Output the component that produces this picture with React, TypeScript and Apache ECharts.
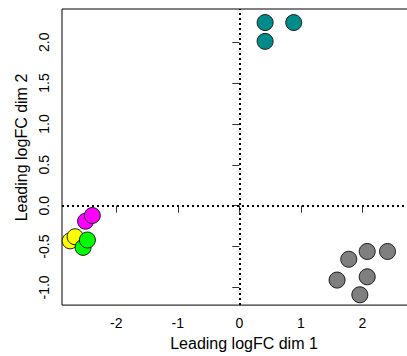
import React, { useEffect, useRef } from "react";
import * as echarts from "echarts";

const xTicks = [-2, -1, 0, 1, 2];
const yTicks = [-1, -0.5, 0, 0.5, 1, 1.5, 2];

const magentaPts = [
  [-2.5, -0.19],
  [-2.39, -0.12],
];
const yellowPts = [
  [-2.75, -0.43],
  [-2.67, -0.38],
];
const greenPts = [
  [-2.54, -0.51],
  [-2.47, -0.42],
];
const tealPts = [
  [0.42, 2.01],
  [0.42, 2.24],
  [0.885, 2.24],
];
const grayPts = [
  [1.59, -0.91],
  [1.96, -1.09],
  [2.08, -0.87],
  [1.78, -0.655],
  [2.08, -0.56],
  [2.41, -0.56],
];

const groups = [
  { name: "magenta", color: "#FF00FF", data: magentaPts },
  { name: "yellow", color: "#FFFF00", data: yellowPts },
  { name: "green", color: "#00FF00", data: greenPts },
  { name: "teal", color: "#008B8B", data: tealPts },
  { name: "gray", color: "#7F7F7F", data: grayPts },
];

const FONT = "Liberation Sans, Arial, sans-serif";

export default function App() {
  const ref = useRef<HTMLDivElement>(null);
  useEffect(() => {
    if (!ref.current) return;
    const chart = echarts.init(ref.current, undefined, { renderer: "svg" });
    const series: any[] = groups.map((g, i) => ({
      type: "scatter",
      name: g.name,
      data: g.data,
      symbol: "circle",
      symbolSize: 16,
      itemStyle: { color: g.color, borderColor: "#1a1a1a", borderWidth: 1, opacity: 1 },
      emphasis: { disabled: true },
      z: 3,
      ...(i === 0
        ? {
            markLine: {
              silent: true,
              symbol: "none",
              label: { show: false },
              lineStyle: { color: "#000", width: 2, type: [2, 3] },
              data: [{ xAxis: 0 }, { yAxis: 0 }],
              z: 1,
            },
          }
        : {}),
    }));
    chart.setOption({
      animation: false,
      backgroundColor: "#fff",
      grid: {
        left: 62,
        top: 9,
        bottom: 50,
        right: 14,
        show: true,
        borderColor: "#000",
        borderWidth: 1,
        backgroundColor: "transparent",
      },
      xAxis: {
        type: "value",
        min: -2.883,
        max: 3.036,
        name: "Leading logFC dim 1",
        nameLocation: "middle",
        nameGap: 24,
        nameTextStyle: { fontFamily: FONT, fontSize: 16, color: "#000" },
        splitLine: { show: false },
        axisLine: { show: false },
        axisTick: { show: true, length: 7, lineStyle: { color: "#333" }, customValues: xTicks },
        axisLabel: {
          customValues: xTicks,
          margin: 11,
          fontFamily: FONT,
          fontSize: 14,
          color: "#000",
          formatter: (v: number) => String(v),
        },
      },
      yAxis: {
        type: "value",
        min: -1.216,
        max: 2.406,
        name: "Leading logFC dim 2",
        nameLocation: "middle",
        nameGap: 29,
        nameTextStyle: { fontFamily: FONT, fontSize: 16, color: "#000", padding: [0, 0, 0, 19] },
        splitLine: { show: false },
        axisLine: { show: false },
        axisTick: { show: true, length: 7, lineStyle: { color: "#333" }, customValues: yTicks },
        axisLabel: {
          customValues: yTicks,
          rotate: 90,
          margin: 11,
          fontFamily: FONT,
          fontSize: 14,
          color: "#000",
          formatter: (v: number) => v.toFixed(1),
        },
      },
      series,
    });
    return () => chart.dispose();
  }, []);
  return (
    <div style={{ position: "fixed", left: 0, top: 0, width: 407, height: 356, overflow: "hidden" }}>
      <div ref={ref} style={{ width: 440, height: 356 }} />
    </div>
  );
}
